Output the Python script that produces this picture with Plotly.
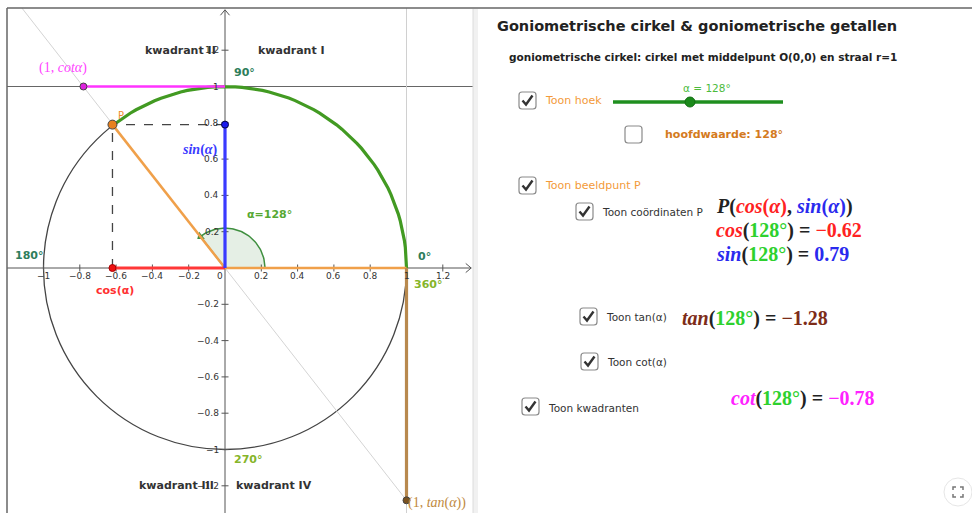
import numpy as np
import plotly.graph_objects as go

W, H = 972, 513

# values shown in the applet
alpha_deg = 128
cos_val = -0.62
sin_val = 0.79
tan_val = -1.28
cot_val = -0.78

x_ticks = [-1, -0.8, -0.6, -0.4, -0.2, 0.2, 0.4, 0.6, 0.8, 1, 1.2]
y_ticks = [-1.2, -1, -0.8, -0.6, -0.4, -0.2, 0.2, 0.4, 0.6, 0.8, 1, 1.2]

quadrant_names = ["kwadrant I", "kwadrant II", "kwadrant III", "kwadrant IV"]

# pixel geometry of the graphics view
S = 181.5          # pixels per unit
OX, OY = 225, 268  # origin in pixels
GL, GR, GT, GB = 7, 473, 8, 513
xmin, xmax = (GL - OX) / S, (GR - OX) / S
ymin, ymax = -(GB - OY) / S, (OY - GT) / S

SANS = "DejaVu Sans"
SERIF = "Liberation Serif"


def px(x):
    return x / W


def py(y):
    return 1 - y / H


def fmt(v):
    s = f"{v:g}"
    return s.replace("-", "\u2212")


fig = go.Figure()
shapes = []
ann = []


def seg(x, y, color, width, dash=None):
    fig.add_trace(go.Scatter(x=x, y=y, mode="lines", hoverinfo="skip",
                             line=dict(color=color, width=width, dash=dash)))


def pt(x, y, color, size=7, edge="#333"):
    fig.add_trace(go.Scatter(x=[x], y=[y], mode="markers", hoverinfo="skip",
                             marker=dict(color=color, size=size, line=dict(color=edge, width=1))))


def label(x, y, text, color, size=11, family=SANS, xanchor="center", yanchor="middle"):
    ann.append(dict(x=x, y=y, xref="x", yref="y", text=text, showarrow=False,
                    xanchor=xanchor, yanchor=yanchor,
                    font=dict(family=family, size=size, color=color)))


# ---- graphics view ----
# helper lines
seg([xmin, xmax], [1, 1], "#666", 1)
seg([1, 1], [ymin, ymax], "#d0d0d0", 1)
seg([ymax / tan_val, 1], [ymax, tan_val], "#d4d4d4", 1)

# axes
seg([xmin, xmax - 0.01], [0, 0], "#555", 1)
seg([xmax - 0.04, xmax - 0.01, xmax - 0.04], [0.025, 0, -0.025], "#555", 1)
seg([0, 0], [ymin, ymax - 0.01], "#555", 1)
seg([-0.025, 0, 0.025], [ymax - 0.04, ymax - 0.01, ymax - 0.04], "#555", 1)

fig.add_trace(go.Scatter(x=x_ticks, y=[0] * len(x_ticks), mode="markers", hoverinfo="skip",
                         marker=dict(symbol="line-ns", size=5, line=dict(color="#555", width=1))))
fig.add_trace(go.Scatter(x=[0] * len(y_ticks), y=y_ticks, mode="markers", hoverinfo="skip",
                         marker=dict(symbol="line-ew", size=5, line=dict(color="#555", width=1))))
for t in x_ticks:
    label(t, -0.045, fmt(t), "#333", 9)
label(-0.03, -0.045, "0", "#333", 9)
for t in y_ticks:
    label(-0.02, t, fmt(t), "#333", 9, xanchor="right")

# unit circle
shapes.append(dict(type="circle", xref="x", yref="y", x0=-1, y0=-1, x1=1, y1=1,
                   line=dict(color="#444", width=1.3), layer="below"))

# angle sector
a = np.radians(np.linspace(0, alpha_deg, 60))
r = 0.22
fig.add_trace(go.Scatter(x=np.r_[0, r * np.cos(a), 0], y=np.r_[0, r * np.sin(a), 0],
                         mode="lines", fill="toself", fillcolor="rgba(0,100,0,0.1)",
                         hoverinfo="skip", line=dict(color="#3f8f3f", width=1.5)))
ar = np.radians(alpha_deg)
fig.add_trace(go.Scatter(x=[r * np.cos(ar)], y=[r * np.sin(ar)], mode="markers",
                         hoverinfo="skip",
                         marker=dict(symbol="triangle-up", size=8, color="#3f8f3f",
                                     angle=-alpha_deg)))

# green arc 0..alpha
seg(np.cos(a), np.sin(a), "#429a22", 3.2)

# segments
seg([0, 1], [0, 0], "#f0a04a", 2.5)
seg([0, cos_val], [0, sin_val], "#f0a04a", 2.5)
seg([cos_val, cos_val], [0, sin_val], "#444", 1.3, "dash")
seg([0, cos_val], [sin_val, sin_val], "#444", 1.3, "dash")
seg([cos_val, 0], [0, 0], "#ff3838", 3.2)
seg([0, 0], [0, sin_val], "#3a3aff", 3.2)
seg([cot_val, 0], [1, 1], "#ff33ff", 2.5)
seg([1, 1], [0, tan_val], "#b8894e", 3.2)

pt(cos_val, 0, "#ee1111", 7, "#a00")
pt(0, sin_val, "#1a1aee", 7, "#004")
pt(cot_val, 1, "#dd22dd", 7, "#444")
pt(1, tan_val, "#7a5220", 7, "#444")
pt(cos_val, sin_val, "#e8801e", 9, "#444")

# labels in graphics view
label(-0.245, 1.198, "<b>" + quadrant_names[1] + "</b>", "#333", 11)
label(0.365, 1.198, "<b>" + quadrant_names[0] + "</b>", "#333", 11)
label(-0.27, -1.198, "<b>" + quadrant_names[2] + "</b>", "#333", 11)
label(0.27, -1.198, "<b>" + quadrant_names[3] + "</b>", "#333", 11)
label(0.04, 1.075, "<b>90°</b>", "#2e7d5b", 11, xanchor="left")
label(-1.17, 0.07, "<b>180°</b>", "#2e7d5b", 11, xanchor="left")
label(1.05, 0.066, "<b>0°</b>", "#2e7d5b", 11, xanchor="left")
label(1.03, -0.093, "<b>360°</b>", "#86b52a", 11, xanchor="left")
label(0.04, -1.055, "<b>270°</b>", "#86b52a", 11, xanchor="left")
label(0.11, 0.297, f"<b>α={alpha_deg}°</b>", "#56a832", 11, xanchor="left")
label(-0.605, -0.126, "<b>cos(α)</b>", "#ff3030", 11)
label(-0.03, 0.648, "<b><i>sin</i>(<i>α</i>)</b>", "#3a3aff", 14, SERIF, xanchor="right")
label(-0.6, 0.84, "P", "#f08a2a", 10, xanchor="left")
label(-0.895, 1.1, "(1, <i>cotα</i>)", "#ff44ff", 14, SERIF)
label(0.995, -1.295, "(1, <i>tan</i>(<i>α</i>))", "#c08a40", 14, SERIF, xanchor="left")

# panel borders
shapes.append(dict(type="line", xref="paper", yref="paper", x0=px(GL), x1=1, y0=py(GT), y1=py(GT),
                   line=dict(color="#666", width=1.5)))
shapes.append(dict(type="line", xref="paper", yref="paper", x0=px(GL), x1=px(GL), y0=py(GT), y1=0,
                   line=dict(color="#666", width=1.5)))
shapes.append(dict(type="rect", xref="paper", yref="paper", x0=px(473), x1=px(478), y0=0, y1=py(GT + 1),
                   line=dict(width=0), fillcolor="#f1f1f1"))
shapes.append(dict(type="line", xref="paper", yref="paper", x0=px(473), x1=px(473), y0=0, y1=py(GT + 1),
                   line=dict(color="#dcdcdc", width=1)))

# ---- algebra / controls panel ----


def ptext(x, y, text, color, size, family=SANS, xanchor="left"):
    ann.append(dict(x=px(x), y=py(y), xref="paper", yref="paper", text=text, showarrow=False,
                    xanchor=xanchor, yanchor="middle",
                    font=dict(family=family, size=size, color=color)))


def checkbox(x, y, checked=True, s=17):
    r = 3
    x0, y0, x1, y1 = x, y, x + s, y + s
    p = (f"M {px(x0 + r)},{py(y0)} L {px(x1 - r)},{py(y0)} Q {px(x1)},{py(y0)} {px(x1)},{py(y0 + r)} "
         f"L {px(x1)},{py(y1 - r)} Q {px(x1)},{py(y1)} {px(x1 - r)},{py(y1)} "
         f"L {px(x0 + r)},{py(y1)} Q {px(x0)},{py(y1)} {px(x0)},{py(y1 - r)} "
         f"L {px(x0)},{py(y0 + r)} Q {px(x0)},{py(y0)} {px(x0 + r)},{py(y0)} Z")
    shapes.append(dict(type="path", xref="paper", yref="paper", path=p,
                       line=dict(color="#8a8a8a", width=1.2), fillcolor="white"))
    if checked:
        c = (f"M {px(x + 3.5)},{py(y + 8.5)} L {px(x + 7)},{py(y + 12.5)} "
             f"L {px(x + 13.5)},{py(y + 3.5)}")
        shapes.append(dict(type="path", xref="paper", yref="paper", path=c,
                           line=dict(color="#333", width=2.4)))


ptext(495, 26, "<b>Goniometrische cirkel &amp; goniometrische getallen</b>", "#222", 14.5)
ptext(507, 57, "<b>goniometrische cirkel: cirkel met middelpunt O(0,0) en straal r=1</b>", "#222", 10.5)

checkbox(519, 92)
ptext(543, 100, "Toon hoek", "#f39a3a", 11)
shapes.append(dict(type="line", xref="paper", yref="paper", x0=px(613), x1=px(783), y0=py(102), y1=py(102),
                   line=dict(color="#1f8f1f", width=3.5)))
shapes.append(dict(type="circle", xref="paper", yref="paper", x0=px(685), x1=px(695), y0=py(97), y1=py(107),
                   line=dict(color="#136f13", width=1), fillcolor="#1b8a1b"))
ptext(707, 88, f"α = {alpha_deg}°", "#4cbb3c", 10.5, xanchor="center")

checkbox(625, 126, checked=False)
ptext(663, 135, f"<b>hoofdwaarde: {alpha_deg}°</b>", "#d47a20", 11)

checkbox(519, 177)
ptext(543, 185, "Toon beeldpunt P", "#f39a3a", 11)
checkbox(576, 203)
ptext(600, 212, "Toon coördinaten P", "#333", 10.5)

RED, BLUE, GRN, DARK = "#ff2222", "#2a2aee", "#2ed12e", "#222"
BROWN, MAG = "#7d2c18", "#ff22ff"


def c(text, color):
    return f"<span style='color:{color}'>{text}</span>"


FS = 20
ptext(714, 206, "<b>" + c("<i>P</i>(", DARK) + c("<i>cos</i>(<i>α</i>)", RED) + c(", ", DARK)
      + c("<i>sin</i>(<i>α</i>)", BLUE) + c(")", DARK) + "</b>", DARK, FS, SERIF)
ptext(714, 230, "<b>" + c("<i>cos</i>", RED) + c("(", DARK) + c(f"{alpha_deg}°", GRN) + c(") = ", DARK)
      + c(fmt(cos_val), RED) + "</b>", DARK, FS, SERIF)
ptext(714, 254, "<b>" + c("<i>sin</i>", BLUE) + c("(", DARK) + c(f"{alpha_deg}°", GRN) + c(") = ", DARK)
      + c(fmt(sin_val), BLUE) + "</b>", DARK, FS, SERIF)

checkbox(580, 308)
ptext(604, 317, "Toon tan(α)", "#333", 10.5)
ptext(680, 318, "<b>" + c("<i>tan</i>", BROWN) + c("(", DARK) + c(f"{alpha_deg}°", GRN) + c(") = ", DARK)
      + c(fmt(tan_val), BROWN) + "</b>", DARK, FS, SERIF)

checkbox(581, 353)
ptext(605, 362, "Toon cot(α)", "#333", 10.5)

checkbox(522, 398)
ptext(546, 408, "Toon kwadranten", "#333", 10.5)
ptext(729, 398, "<b>" + c("<i>cot</i>", MAG) + c("(", DARK) + c(f"{alpha_deg}°", GRN) + c(") = ", DARK)
      + c(fmt(cot_val), MAG) + "</b>", DARK, FS, SERIF)

# fullscreen button
shapes.append(dict(type="circle", xref="paper", yref="paper", x0=px(944), x1=px(972), y0=py(478), y1=py(506),
                   line=dict(color="#e6e6e6", width=1), fillcolor="white"))
for sx, sy in [(-1, -1), (1, -1), (-1, 1), (1, 1)]:
    cx, cy = 958 + 5 * sx, 492 + 5 * sy
    p = f"M {px(cx)},{py(cy - 3 * sy)} L {px(cx)},{py(cy)} L {px(cx - 3 * sx)},{py(cy)}"
    shapes.append(dict(type="path", xref="paper", yref="paper", path=p,
                       line=dict(color="#777", width=1.5)))

fig.update_layout(
    width=W, height=H, margin=dict(l=0, r=0, t=0, b=0),
    paper_bgcolor="white", plot_bgcolor="white", showlegend=False,
    xaxis=dict(domain=[px(GL), px(GR)], range=[xmin, xmax], visible=False, fixedrange=True),
    yaxis=dict(domain=[0, py(GT)], range=[ymin, ymax], visible=False, fixedrange=True),
    shapes=shapes, annotations=ann,
)

fig.write_html("out.html", config={"displayModeBar": False},
               post_script="document.body.style.margin='0';document.body.style.overflow='hidden';")
